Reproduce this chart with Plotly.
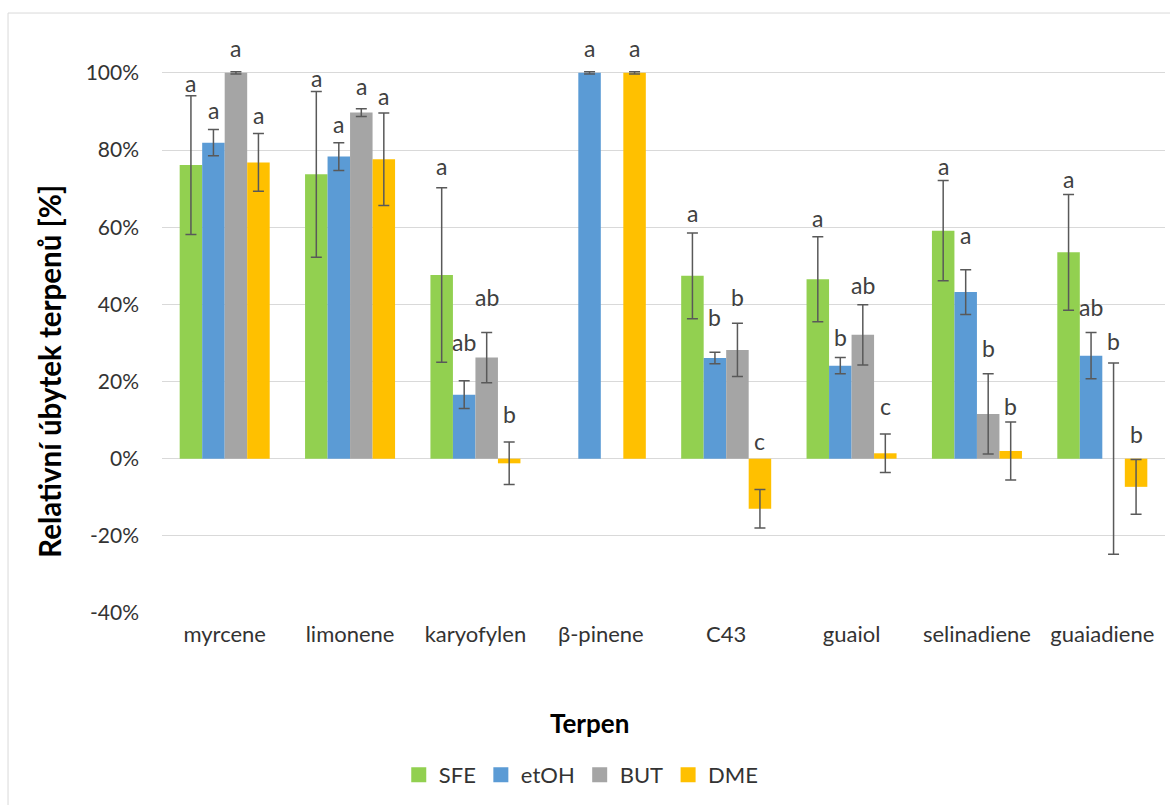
import plotly.graph_objects as go

# Terpene categories and extraction methods
terpenes = ["myrcene", "limonene", "karyofylen", "β-pinene", "C43", "guaiol", "selinadiene", "guaiadiene"]
methods = ["SFE", "etOH", "BUT", "DME"]

# Mean relative decrease [%] per method
sfe = [76.1, 73.7, 47.6, None, 47.4, 46.5, 59.1, 53.5]
etoh = [81.9, 78.3, 16.6, 100.0, 26.1, 24.1, 43.2, 26.7]
but = [100.0, 89.7, 26.2, None, 28.2, 32.1, 11.6, 0.0]
dme = [76.8, 77.6, -1.2, 100.0, -13.0, 1.4, 2.0, -7.3]

# Standard deviations [%]
sfe_sd = [18.0, 21.5, 22.6, 0, 11.1, 11.0, 13.0, 15.0]
etoh_sd = [3.4, 3.6, 3.6, 0.3, 1.5, 2.1, 5.8, 6.0]
but_sd = [0.3, 1.0, 6.5, 0, 6.9, 7.8, 10.4, 24.8]
dme_sd = [7.5, 12.0, 5.5, 0.3, 5.0, 5.0, 7.5, 7.1]

# Significance letters and their heights [%]
sfe_letters = ["a", "a", "a", "", "a", "a", "a", "a"]
etoh_letters = ["a", "a", "ab", "a", "b", "b", "a", "ab"]
but_letters = ["a", "a", "ab", "", "b", "ab", "b", "b"]
dme_letters = ["a", "a", "b", "a", "c", "c", "b", "b"]

sfe_letter_y = [96.5, 97.8, 75.2, None, 62.9, 61.6, 75.0, 71.8]
etoh_letter_y = [89.6, 86.0, 29.5, 105.6, 36.0, 30.8, 57.3, 38.5]
but_letter_y = [105.6, 95.9, 41.1, None, 41.1, 44.2, 27.8, 29.7]
dme_letter_y = [88.2, 93.1, 10.7, 105.6, 3.8, 12.9, 12.9, 5.7]

colors = ["#92D050", "#5B9BD5", "#A5A5A5", "#FFC000"]
values = [sfe, etoh, but, dme]
sds = [sfe_sd, etoh_sd, but_sd, dme_sd]
letters = [sfe_letters, etoh_letters, but_letters, dme_letters]
letter_ys = [sfe_letter_y, etoh_letter_y, but_letter_y, dme_letter_y]

FONT = "Lato"
BARGAP = 0.282
Y_MIN, Y_MAX = -40, 115

fig = go.Figure()
for name, vals, sd, col in zip(methods, values, sds, colors):
    fig.add_trace(go.Bar(
        name=name, x=terpenes, y=vals, marker=dict(color=col, line=dict(width=0)),
        error_y=dict(type="data", array=sd, visible=True, color="#595959",
                     thickness=1.5, width=5.5),
        showlegend=False,
    ))
    # square legend swatch
    fig.add_trace(go.Scatter(
        name=name, x=[None], y=[None], mode="markers",
        marker=dict(symbol="square", size=15, color=col), showlegend=True,
    ))

# Letter annotations centred over each bar of the group
bar_w = (1 - BARGAP) / len(methods)
annotations = []
for k, (lets, lys) in enumerate(zip(letters, letter_ys)):
    offset = (k - (len(methods) - 1) / 2) * bar_w
    for i, (txt, ly) in enumerate(zip(lets, lys)):
        if not txt or ly is None:
            continue
        annotations.append(dict(
            x=i + offset, y=ly, xref="x", yref="y", text=txt, showarrow=False,
            xanchor="center", yanchor="middle", yshift=3,
            font=dict(family=FONT, size=23, color="#404040"),
        ))

# Axis titles
annotations.append(dict(
    x=-0.1117, y=0.405, xref="paper", yref="paper", text="<b>Relativní úbytek terpenů [%]</b>",
    textangle=-90, showarrow=False, xanchor="center", yanchor="middle",
    font=dict(family=FONT, size=29.5, color="#000000"),
))
annotations.append(dict(
    x=0.4267, y=-0.184, xref="paper", yref="paper", text="<b>Terpen</b>",
    showarrow=False, xanchor="center", yanchor="middle",
    font=dict(family=FONT, size=26, color="#000000"),
))

fig.update_layout(
    width=1170, height=805,
    margin=dict(l=162, r=5, t=15, b=192),
    paper_bgcolor="white", plot_bgcolor="white",
    barmode="group", bargap=BARGAP, bargroupgap=0,
    font=dict(family=FONT, size=20, color="#333333"),
    showlegend=True,
    legend=dict(orientation="h", x=0.418, y=-0.271, xanchor="center", yanchor="middle",
                font=dict(family=FONT, size=22, color="#333333"),
                itemwidth=30, traceorder="normal"),
    annotations=annotations,
    shapes=[dict(type="rect", xref="paper", yref="paper",
                 x0=-0.1535, x1=1.01, y0=-0.33, y1=1.0033,
                 line=dict(color="#D9D9D9", width=1), fillcolor="rgba(0,0,0,0)", layer="below")],
)
fig.update_xaxes(showgrid=False, showline=False, zeroline=False, ticks="",
                 tickfont=dict(family=FONT, size=22, color="#333333"),
                 ticklabelstandoff=6)
fig.update_yaxes(range=[Y_MIN, Y_MAX], tickvals=[-40, -20, 0, 20, 40, 60, 80, 100],
                 ticktext=["-40%", "-20%", "0%", "20%", "40%", "60%", "80%", "100%"],
                 showgrid=True, gridcolor="#D9D9D9", gridwidth=1,
                 zeroline=True, zerolinecolor="#D9D9D9", zerolinewidth=1,
                 showline=False, ticks="",
                 tickfont=dict(family=FONT, size=21, color="#333333"),
                 ticklabelstandoff=22)
fig.update_traces(cliponaxis=False, selector=dict(type="bar"))

fig.write_html("out.html")
